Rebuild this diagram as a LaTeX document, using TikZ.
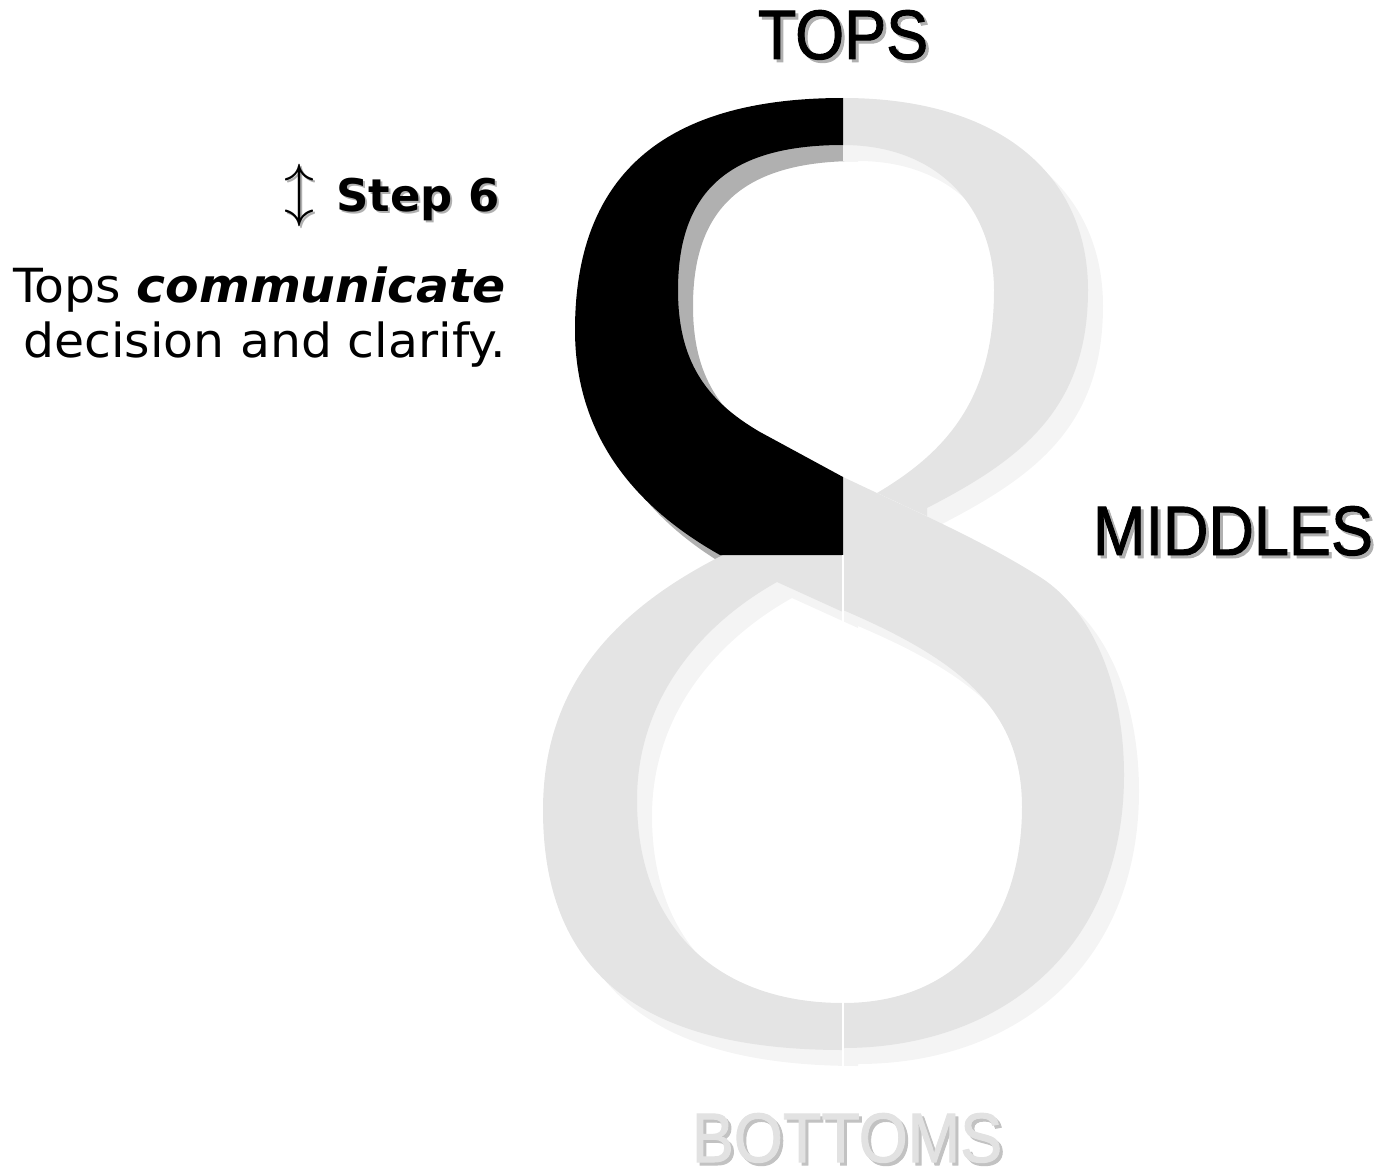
\documentclass[tikz,border=0pt]{standalone}
\usepackage{fontspec}
\newfontfamily\tierfont{Liberation Sans}[FakeBold=1.4]
\newfontfamily\stepfont{DejaVu Sans}

\definecolor{eightfill}{HTML}{E4E4E4}
\definecolor{eightshade}{HTML}{F4F4F4}
\definecolor{darkshade}{HTML}{B0B0B0}
\definecolor{bottomfill}{HTML}{E2E2E2}
\definecolor{bottomshade}{HTML}{C2C2C2}

\begin{document}
\begin{tikzpicture}[
  x=1pt, y=-1pt,
  tier/.style={font=\tierfont\fontsize{70}{80}\selectfont, inner sep=0pt,
               anchor=base, xscale=0.9},
  steplab/.style={font=\stepfont\bfseries\fontsize{45}{50}\selectfont,
                  inner sep=0pt, anchor=base east},
  note/.style={font=\stepfont\fontsize{47}{56}\selectfont,
               inner sep=0pt, anchor=base east, xscale=1.04},
  shade/.style={shift={(15,16)}},
  split/.style={white, line width=1.2pt}
]
% quarter outlines of the eight (coordinates in pixels, y down)
\newcommand{\tlpart}{(843,98) .. controls (670,98) and (575,170) .. (575,330)
  .. controls (575,440) and (640,510) .. (720,555) -- (843,555) -- (843,477)
  -- (760,432) .. controls (705,400) and (678,360) .. (678,290)
  .. controls (678,195) and (725,145) .. (843,145) -- cycle}
\newcommand{\trpart}{(828,98) -- (843,98) .. controls (1000,98) and (1088,175)
  .. (1088,290) .. controls (1088,410) and (1020,460) .. (927,508)
  -- (927,516) -- (877,493) .. controls (950,450) and (994,395) .. (994,290)
  .. controls (994,210) and (940,145) .. (843,145) -- (828,145) -- cycle}
\newcommand{\brpart}{(843,477) -- (877,493) .. controls (930,518) and (990,545)
  .. (1040,577) .. controls (1095,612) and (1124,690) .. (1124,775)
  .. controls (1124,950) and (1000,1048) .. (843,1048) -- (843,1003)
  .. controls (960,1003) and (1022,920) .. (1022,807)
  .. controls (1022,710) and (960,660) .. (843,610) -- cycle}
\newcommand{\blpart}{(843,555) -- (723,555) .. controls (610,612) and (543,690)
  .. (543,810) .. controls (543,980) and (650,1050) .. (843,1050)
  -- (843,1003) .. controls (720,1003) and (637,930) .. (637,800)
  .. controls (637,700) and (700,625) .. (777,582) -- (843,612) -- cycle}

\useasboundingbox (0,0) rectangle (1385,1172);

% ---------- Shadows ----------
\fill[darkshade, shade] \tlpart;
\fill[eightshade, shade] \trpart;
\fill[eightshade, shade] \brpart;
\fill[eightshade, shade] \blpart;

% ---------- Eight ----------
\fill[eightfill] \trpart;
\fill[eightfill] \brpart;
\fill[eightfill] \blpart;
\fill[black] \tlpart;
\coordinate (splittop) at (843,555);
\coordinate (splitbot) at (843,1068);
\draw[split] (splittop) -- (splitbot);

% ---------- Tiers ----------
\node[tier, text=darkshade] (tops-s) at (846,62) {TOPS};
\node[tier] (tops) at (843,59) {TOPS};
\node[tier, text=darkshade] (middles-s) at (1236,558) {MIDDLES};
\node[tier] (middles) at (1233,555) {MIDDLES};
\node[tier, text=bottomshade] (bottoms-s) at (850,1165) {BOTTOMS};
\node[tier, text=bottomfill] (bottoms) at (847,1162) {BOTTOMS};

% ---------- Step ----------
\node[scale=6, text=darkshade] (arrow-s) at (301,197) {$\updownarrow$};
\node[scale=6] (arrow) at (299,195) {$\updownarrow$};
\node[steplab, text=darkshade] (step-s) at (502,213) {Step 6};
\node[steplab] (step) at (500,211) {Step 6};
\node[note] (line1) at (506,302) {Tops \textbf{\textit{communicate}}};
\node[note] (line2) at (506,357) {decision and clarify.};

\end{tikzpicture}
\end{document}
